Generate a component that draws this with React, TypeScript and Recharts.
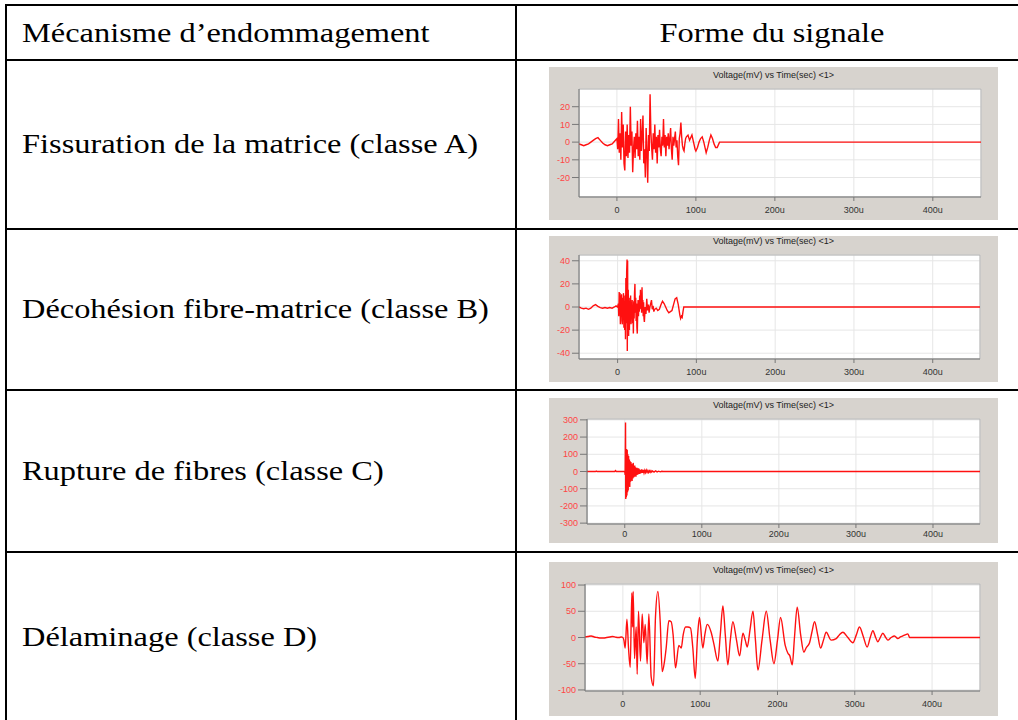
import { LineChart, Line, XAxis, YAxis, CartesianGrid, ReferenceArea } from "recharts"

// Tableau : mécanismes d'endommagement et forme du signal EA
const headerLeft = "Mécanisme d’endommagement"
const headerRight = "Forme du signale"
const rowLabels = [
  "Fissuration de la matrice (classe A)",
  "Décohésion fibre-matrice (classe B)",
  "Rupture de fibres (classe C)",
  "Délaminage (classe D)",
]
const chartTitle = "Voltage(mV) vs Time(sec) <1>"
const xTicks = [0, 100, 200, 300, 400]

// temps (µs), tension (mV)
const signalA: [number, number][] = [
  [-48, -1], [-45, -1.5], [-42, -2], [-39, -1.5], [-36, -1], [-33, 0], [-30, 1], [-27, 2], [-24, 2.5],
  [-21, 1], [-18, -0.5], [-15, -1.5], [-12, -2], [-9, -1.5], [-6, -1], [-3, 0.5], [-1, 1.5],
  [0, 2], [1, -4], [2, 13], [3, -6], [4, 5], [5, -10], [6, 17], [7, -3], [8, 10], [9, -12], [10, -16],
  [11, 6], [12, -8], [13, 10], [14, -9], [15, 4], [16, -6], [17, 20], [18, -2], [19, 6], [20, -17],
  [21, -4], [22, 3], [23, -9], [24, 5], [25, -4], [26, 12], [27, -8], [28, 3], [29, -10], [30, 13],
  [31, -5], [32, 4], [33, 15], [34, -12], [35, -4], [36, -20], [37, 8], [38, -6], [39, -23], [40, 4],
  [41, -5], [42, 27], [43, 6], [44, -3], [45, -10], [46, 5], [47, -4], [48, 10], [49, -6], [50, 3],
  [51, -12], [52, 4], [53, -3], [54, 7], [55, -4], [56, -8], [57, 3], [58, -2], [59, 13], [60, -3],
  [61, 4], [62, -8], [63, 3], [64, -2], [65, 5], [66, -4], [67, 2], [68, 8], [69, -4], [70, -10],
  [71, 3], [72, -2], [73, 2], [74, 6], [75, -3], [76, 1], [77, -8], [78, -13], [79, 2], [80, 5],
  [81, 11], [82, 3], [83, -2], [84, -4], [85, -5], [86, -1], [87, 2], [88, 3], [90, 4], [92, 1],
  [93, 2], [95, 4], [97, 0], [99, -4], [100, -5], [102, -3], [104, 0], [106, 2], [108, 3], [110, 0],
  [112, -4], [113, -6], [115, -3], [117, 1], [119, 4], [121, 2], [123, -1], [125, -3], [127, -3],
  [129, -1], [130, 0], [461, 0],
]

const signalB: [number, number][] = [
  [-49, 0], [-46, -1], [-43, -1.5], [-40, -1], [-37, -2], [-34, -1], [-31, 1], [-28, 2], [-25, 0.5],
  [-22, -0.5], [-19, -1], [-16, -0.5], [-13, -1], [-10, -0.5], [-7, -1], [-4, 0], [-2, 1], [0, 0],
  [1, 3], [1.5, -8], [2, 13], [2.5, -5], [3, 12], [3.5, -15], [4, 10], [4.5, -6], [5, 11], [5.5, -12],
  [6, -15], [6.5, 8], [7, -10], [7.5, 12], [8, -18], [8.5, 5], [9, -20], [9.5, 10], [10, -28],
  [10.5, 25], [11, -14], [11.5, 30], [12, 41], [12.3, -38], [12.7, 40], [13, -20], [13.5, 15],
  [14, -25], [14.5, 8], [15, -20], [15.5, 5], [16, -12], [16.5, 10], [17, -15], [17.5, 4], [18, -8],
  [18.5, 6], [19, -14], [19.5, 2], [20, -23], [20.5, 5], [21, -10], [21.5, 12], [22, 20], [22.5, -5],
  [23, 8], [23.5, -12], [24, 3], [24.5, -18], [25, -23], [25.5, -5], [26, 6], [26.5, -8], [27, 5],
  [27.5, -4], [28, 10], [28.5, -2], [29, 15], [29.5, 0], [30, 8], [30.5, -5], [31, 17], [31.5, -3],
  [32, 6], [32.5, -8], [33, 4], [33.5, -10], [34, -13], [35, 0], [36, -6], [37, 7], [38, -3], [39, 2],
  [40, -5], [41, 0], [42, 3], [43, 6], [44, -2], [45, 1], [46, -4], [47, -2], [49, -1], [51, -3],
  [53, -2], [55, 2], [57, 5], [59, 3], [61, 0], [63, -3], [65, -5], [67, -4], [69, -3], [71, 2],
  [73, 7], [75, 8], [77, 2], [79, -7], [80, -10], [81, -8], [82, -9], [83, -4], [84, 0], [460, 0],
]

const signalC: [number, number][] = [
  [-49, 0], [-38, 0], [-37, 3], [-36, 0], [-13, 0], [-12, 5], [-11, 0], [0, 0],
  [0.5, -20], [1, 285], [1.3, -160], [1.7, 120], [2, -150], [2.4, 130], [2.8, -140], [3.2, 125],
  [3.6, -120], [4, 100], [4.5, -110], [5, 90], [5.5, -80], [6, 70], [6.5, -90], [7, 60], [7.5, -60],
  [8, 55], [8.5, -50], [9, 45], [9.5, -55], [10, 40], [10.5, -40], [11, 50], [11.5, -35], [12, 30],
  [12.5, -30], [13, 35], [13.5, -25], [14, 25], [14.5, -30], [15, 20], [15.5, -20], [16, 22],
  [16.5, -18], [17, 15], [17.5, -15], [18, 18], [18.5, -12], [19, 12], [19.5, -14], [20, 10],
  [21, -10], [22, 12], [23, -8], [24, 9], [25, -9], [26, 7], [27, -6], [28, 8], [29, -5], [30, 5],
  [31, -6], [32, 4], [33, -4], [34, 5], [35, -3], [36, 3], [38, -3], [40, 4], [42, -2], [44, 2],
  [46, -2], [48, 1], [50, 0], [461, 0],
]

const signalD: [number, number][] = [
  [-49, 1], [-45, 2], [-41, 3], [-37, 1], [-33, 0], [-29, -1], [-25, -1], [-21, 0], [-17, 1],
  [-13, 2], [-9, 0.5], [-5, 0], [-2, 1], [0, 0],
  [1.3, -5], [3, -20], [5.2, 35], [7.3, -20], [9.5, -57], [11.6, 85], [12.5, 20], [13.3, 88],
  [15.1, -40], [17.2, 20], [18.5, -70], [20.2, 50], [22.8, -45], [25, 45], [27.1, -10], [28.9, 25],
  [31.4, -50], [33.6, 45], [36.6, -75], [39.6, -92], [42.2, 40], [45.3, 88], [48.3, 30], [50.9, -65],
  [53.9, -45], [56, -20], [59.5, 32], [62.5, 30], [65, 5], [68.1, -58], [72.4, -15], [75.5, -20],
  [78, 5], [81.1, 20], [84.1, 20], [87.5, 18], [90.5, -20], [93.6, -78], [96.5, 0], [99.1, 38],
  [103.4, -20], [106, 5], [109.1, 25], [114.2, 10], [117.7, -12], [122.9, -45], [126, 5], [129.4, 60],
  [132.5, 5], [135.8, -52], [139, -5], [142.3, 30], [147, -5], [151, -35], [155.3, 8], [158.3, -5],
  [160.9, -18], [164.5, 15], [168.3, 50], [171.5, -5], [174.7, -62], [180, -5], [185.5, 50],
  [190.5, -5], [195.4, -50], [200, -5], [204, 38], [210, -15], [213.5, -30], [216, -35], [219.1, -52],
  [222, 0], [225.5, 58], [230, 5], [234.2, -28], [237, -20], [241.5, -10], [244.5, 10], [248, 30],
  [252, 5], [255.8, -20], [259.5, -5], [263, 10], [269.5, -5], [276, -2], [280, 5], [284.6, 10],
  [291, 0], [297.5, -10], [302, 5], [306.1, 20], [311, 2], [316, -18], [320, 0], [323.4, 13], [327, 0],
  [329.8, -8], [333, 0], [336.3, 8], [340, 0], [342.8, -5], [347, 0], [351.4, 3], [355.7, -2],
  [359, 1], [362.2, 3], [365, 5], [368.6, 7], [370, 3], [370.8, 0], [462, 0],
]

const yTicksA = [-20, -10, 0, 10, 20]
const yTicksB = [-40, -20, 0, 20, 40]
const yTicksC = [-300, -200, -100, 0, 100, 200, 300]
const yTicksD = [-100, -50, 0, 50, 100]

const serif = "'Liberation Serif', 'Times New Roman', serif"
const sans = "'Liberation Sans', Arial, sans-serif"
const textSize = 27
const stretch = 1.2

function fmtTime(v: number) {
  return v === 0 ? "0" : `${v}u`
}

interface Box {
  left: number
  top: number
  width: number
  height: number
  mt: number
  mr: number
  xh: number
  yw: number
  tm: number
}

function WaveChart({
  signal,
  xDomain,
  yDomain,
  yTicks,
  box,
  curve,
}: {
  signal: [number, number][]
  xDomain: [number, number]
  yDomain: [number, number]
  yTicks: number[]
  box: Box
  curve: "linear" | "monotone"
}) {
  const data = signal.map(([t, v]) => ({ t, v }))
  return (
    <div
      style={{
        position: "absolute",
        left: box.left,
        top: box.top,
        width: box.width,
        height: box.height,
        background: "#d7d3ce",
      }}
    >
      <div
        style={{
          position: "absolute",
          left: 0,
          right: 0,
          top: box.mt - 19,
          textAlign: "center",
          fontFamily: sans,
          fontSize: 9,
          lineHeight: "11px",
          color: "#222",
        }}
      >
        {chartTitle}
      </div>
      <LineChart
        width={box.width}
        height={box.height}
        data={data}
        margin={{ top: box.mt, right: box.mr, bottom: 0, left: 0 }}
      >
        <CartesianGrid fill="#fff" stroke="#e6e6e6" />
        <ReferenceArea
          x1={xDomain[0]}
          x2={xDomain[1]}
          y1={yDomain[0]}
          y2={yDomain[1]}
          fill="none"
          stroke="#b4b4b4"
          ifOverflow="visible"
        />
        <XAxis
          type="number"
          dataKey="t"
          domain={xDomain}
          ticks={xTicks}
          allowDataOverflow
          interval={0}
          height={box.xh}
          tickFormatter={fmtTime}
          tick={{ fontSize: 9, fill: "#333", fontFamily: sans }}
          stroke="#777"
          tickSize={4}
          tickMargin={box.tm}
        />
        <YAxis
          type="number"
          domain={yDomain}
          ticks={yTicks}
          allowDataOverflow
          interval={0}
          width={box.yw}
          tick={{ fontSize: 9, fill: "#ff4545", fontFamily: sans }}
          stroke="#777"
          tickSize={7}
          tickMargin={2}
        />
        <Line
          type={curve}
          dataKey="v"
          stroke="#ff1010"
          strokeWidth={1.4}
          dot={false}
          isAnimationActive={false}
        />
      </LineChart>
    </div>
  )
}

const rowLines = [59, 228, 389, 551]
const rowCenters = [144, 309, 471, 637]

export default function App() {
  return (
    <div
      style={{
        position: "absolute",
        left: 0,
        top: 0,
        width: 1018,
        height: 720,
        overflow: "hidden",
        background: "#fff",
      }}
    >
      {/* bordures du tableau */}
      <div style={{ position: "absolute", left: 5, top: 4, width: 1013, height: 2, background: "#000" }} />
      <div style={{ position: "absolute", left: 5, top: 4, width: 2, height: 716, background: "#000" }} />
      <div style={{ position: "absolute", left: 515, top: 4, width: 2, height: 716, background: "#000" }} />
      {rowLines.map((y) => (
        <div key={y} style={{ position: "absolute", left: 5, top: y, width: 1013, height: 2, background: "#000" }} />
      ))}

      {/* en-têtes */}
      <div
        style={{
          position: "absolute",
          left: 22,
          top: 33,
          fontFamily: serif,
          fontSize: textSize,
          whiteSpace: "nowrap",
          transform: `translateY(-50%) scaleX(${stretch})`,
          transformOrigin: "left center",
        }}
      >
        {headerLeft}
      </div>
      <div
        style={{
          position: "absolute",
          left: 472,
          width: 600,
          top: 33,
          textAlign: "center",
          fontFamily: serif,
          fontSize: textSize,
          whiteSpace: "nowrap",
          transform: `translateY(-50%) scaleX(${stretch})`,
          transformOrigin: "center center",
        }}
      >
        {headerRight}
      </div>

      {rowLabels.map((label, i) => (
        <div
          key={label}
          style={{
            position: "absolute",
            left: 22,
            top: rowCenters[i],
            fontFamily: serif,
            fontSize: textSize,
            whiteSpace: "nowrap",
            transform: `translateY(-50%) scaleX(${stretch})`,
            transformOrigin: "left center",
          }}
        >
          {label}
        </div>
      ))}

      <WaveChart
        signal={signalA}
        xDomain={[-48, 461]}
        yDomain={[-31, 30]}
        yTicks={yTicksA}
        curve="linear"
        box={{ left: 549, top: 67, width: 449, height: 153, mt: 22, mr: 17, xh: 23, yw: 30, tm: 6 }}
      />
      <WaveChart
        signal={signalB}
        xDomain={[-49, 460]}
        yDomain={[-45, 45]}
        yTicks={yTicksB}
        curve="linear"
        box={{ left: 549, top: 236, width: 449, height: 146, mt: 19, mr: 18, xh: 23, yw: 30, tm: 6 }}
      />
      <WaveChart
        signal={signalC}
        xDomain={[-49, 461]}
        yDomain={[-305, 305]}
        yTicks={yTicksC}
        curve="linear"
        box={{ left: 549, top: 398, width: 449, height: 145, mt: 21, mr: 18, xh: 19, yw: 38, tm: 3 }}
      />
      <WaveChart
        signal={signalD}
        xDomain={[-49, 462]}
        yDomain={[-102, 102]}
        yTicks={yTicksD}
        curve="monotone"
        box={{ left: 549, top: 562, width: 449, height: 154, mt: 22, mr: 18, xh: 25, yw: 36, tm: 6 }}
      />
    </div>
  )
}
